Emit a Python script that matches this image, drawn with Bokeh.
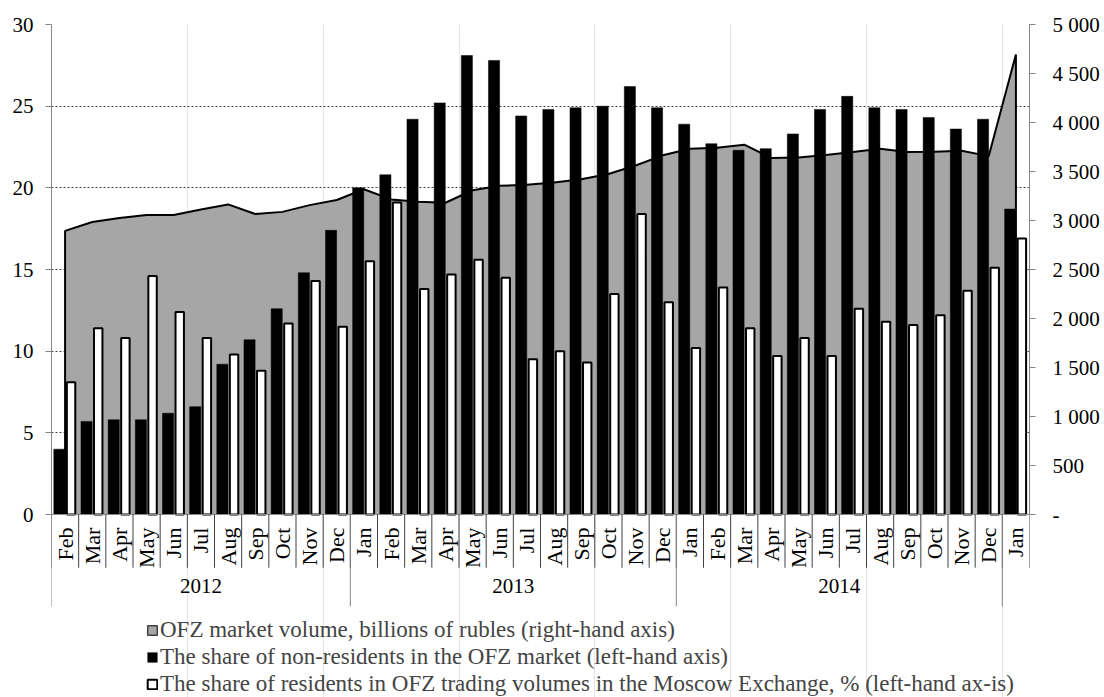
import math
from bokeh.plotting import figure
from bokeh.models import Range1d, LinearAxis, FixedTicker, Legend, LegendItem
from bokeh.core.properties import value
from bokeh.embed import file_html
from bokeh.resources import INLINE

# ---------------- data ----------------
months = ["Feb", "Mar", "Apr", "May", "Jun", "Jul", "Aug", "Sep", "Oct", "Nov", "Dec",
          "Jan", "Feb", "Mar", "Apr", "May", "Jun", "Jul", "Aug", "Sep", "Oct", "Nov", "Dec",
          "Jan", "Feb", "Mar", "Apr", "May", "Jun", "Jul", "Aug", "Sep", "Oct", "Nov", "Dec",
          "Jan"]
years = ["2012", "2013", "2014"]

# share of non-residents in the OFZ market, % (left axis)
nonres_share = [4.0, 5.7, 5.8, 5.8, 6.2, 6.6, 9.2, 10.7, 12.6, 14.8, 17.4,
                20.0, 20.8, 24.2, 25.2, 28.1, 27.8, 24.4, 24.8, 24.9, 25.0, 26.2, 24.9,
                23.9, 22.7, 22.3, 22.4, 23.3, 24.8, 25.6, 24.9, 24.8, 24.3, 23.6, 24.2,
                18.7]
# share of residents in OFZ trading volumes on the Moscow Exchange, % (left axis)
res_share = [8.1, 11.4, 10.8, 14.6, 12.4, 10.8, 9.8, 8.8, 11.7, 14.3, 11.5,
             15.5, 19.1, 13.8, 14.7, 15.6, 14.5, 9.5, 10.0, 9.3, 13.5, 18.4, 13.0,
             10.2, 13.9, 11.4, 9.7, 10.8, 9.7, 12.6, 11.8, 11.6, 12.2, 13.7, 15.1,
             16.9]
# OFZ market volume, bn rubles (right axis)
ofz_volume = [2894, 2985, 3026, 3057, 3057, 3112, 3164, 3067, 3088, 3157, 3209,
              3319, 3215, 3191, 3181, 3309, 3354, 3364, 3388, 3422, 3474, 3561, 3665,
              3733, 3743, 3774, 3637, 3644, 3668, 3699, 3733, 3699, 3702, 3712, 3657,
              4693]

left_ticks = [0, 5, 10, 15, 20, 25, 30]
right_ticks = [0, 500, 1000, 1500, 2000, 2500, 3000, 3500, 4000, 4500, 5000]
right_tick_labels = ["-", "500", "1 000", "1 500", "2 000", "2 500", "3 000",
                     "3 500", "4 000", "4 500", "5 000"]
legend_labels = [
    "OFZ market volume, billions of rubles (right-hand axis)",
    "The share of non-residents in the OFZ market (left-hand axis)",
    "The share of residents in OFZ trading volumes in the Moscow Exchange, % (left-hand ax-is)",
]

# ---------------- layout ----------------
FONT = "Liberation Serif"
GREY_AX = "#868686"
n = len(months)
centers = [i + 0.5 for i in range(n)]
L_TOP = left_ticks[-1]
R_TOP = right_ticks[-1]
Y_BOTTOM = -11.204                    # frame extends below zero for the category axis + legend
R_BOTTOM = Y_BOTTOM * R_TOP / L_TOP

p = figure(width=1104, height=697, output_backend="svg", toolbar_location=None,
           x_range=Range1d(0, n), y_range=Range1d(Y_BOTTOM, L_TOP),
           x_axis_location=None,
           min_border_left=51, min_border_right=75, min_border_top=24, min_border_bottom=0)
p.outline_line_color = None
p.background_fill_color = "white"
p.border_fill_color = "white"
p.extra_y_ranges = {"vol": Range1d(R_BOTTOM, R_TOP)}

# left axis
ya = p.yaxis[0]
ya.ticker = FixedTicker(ticks=left_ticks)
ya.bounds = (0, L_TOP)
ya.axis_line_color = GREY_AX
ya.major_tick_line_color = GREY_AX
ya.major_tick_out = 6
ya.major_tick_in = 0
ya.minor_tick_line_color = None
ya.major_label_text_font = FONT
ya.major_label_text_font_size = "21px"
ya.major_label_text_color = "black"
ya.major_label_standoff = 12

# right axis
ra = LinearAxis(y_range_name="vol", ticker=FixedTicker(ticks=right_ticks),
                major_label_overrides={t: lab for t, lab in zip(right_ticks, right_tick_labels)})
ra.bounds = (0, R_TOP)
ra.axis_line_color = GREY_AX
ra.major_tick_line_color = GREY_AX
ra.major_tick_out = 6
ra.major_tick_in = 0
ra.minor_tick_line_color = None
ra.major_label_text_font = FONT
ra.major_label_text_font_size = "21px"
ra.major_label_text_color = "black"
ra.major_label_standoff = 17
p.add_layout(ra, "right")

# grid
p.ygrid.ticker = FixedTicker(ticks=[t for t in left_ticks if 0 < t < L_TOP])
p.ygrid.grid_line_color = "#404040"
p.ygrid.grid_line_dash = "2 2"
p.ygrid.grid_line_width = 1

# area (right axis)
p.varea(x=centers, y1=0, y2=ofz_volume, y_range_name="vol", fill_color="#a6a6a6")
p.line(x=[centers[0]] + centers + [centers[-1]], y=[0] + ofz_volume + [0],
       y_range_name="vol", line_color="black", line_width=2)

# bars (left axis)
r_black = p.vbar(x=[c - 0.21 for c in centers], width=0.41, top=nonres_share, bottom=0,
                 fill_color="black", line_color="black", line_width=0.5)
r_white = p.vbar(x=[c + 0.22 for c in centers], width=0.31, top=res_share, bottom=0,
                 fill_color="white", line_color="black", line_width=2)

# zero line
p.segment(x0=[0], y0=[0], x1=[n], y1=[0], line_color=GREY_AX, line_width=1)

# category axis: separators and labels
month_bounds = list(range(n + 1))
p.segment(x0=month_bounds, y0=[0] * len(month_bounds), x1=month_bounds,
          y1=[-3.26] * len(month_bounds), line_color="#404040", line_width=1)
year_bounds = [0] + [i for i, m in enumerate(months) if m == "Jan"]
p.segment(x0=year_bounds, y0=[0] * len(year_bounds), x1=year_bounds,
          y1=[-5.63] * len(year_bounds), line_color=GREY_AX, line_width=1)

p.text(x=centers, y=[-0.8] * n, text=months, angle=math.pi / 2,
       text_align="right", text_baseline="middle",
       text_font=value(FONT), text_font_size="22px", text_color="black")
year_centers = [(year_bounds[k] + year_bounds[k + 1]) / 2 for k in range(len(years))]
p.text(x=year_centers, y=[-4.35] * len(years), text=years,
       text_align="center", text_baseline="middle",
       text_font=value(FONT), text_font_size="21px", text_color="black")

# legend (proxy renderer for the area swatch, hidden from the plot)
r_area_proxy = p.vbar(x=centers[:1], top=ofz_volume[:1], width=0.4, y_range_name="vol",
                      fill_color="#a6a6a6", line_color="#404040", line_width=1.5)
r_area_proxy.visible = False
legend = Legend(items=[LegendItem(label=legend_labels[0], renderers=[r_area_proxy]),
                       LegendItem(label=legend_labels[1], renderers=[r_black]),
                       LegendItem(label=legend_labels[2], renderers=[r_white])],
                location=(95, 0), orientation="vertical",
                glyph_width=12, glyph_height=12, label_standoff=2, spacing=1,
                padding=0, margin=0, border_line_color=None, background_fill_alpha=0,
                label_text_font=FONT, label_text_font_size="23px", label_height=26)
p.add_layout(legend)

open("out.html", "w").write(file_html(p, INLINE))
